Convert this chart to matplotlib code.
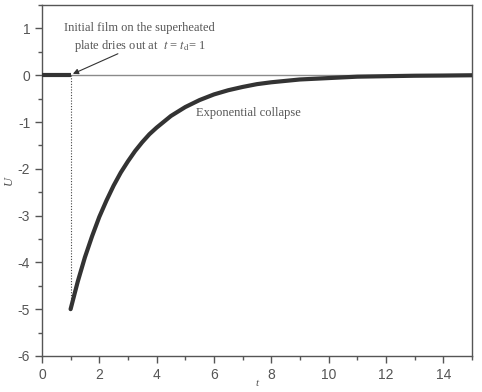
import matplotlib
matplotlib.use("Agg")
import matplotlib.pyplot as plt
from matplotlib.ticker import MultipleLocator

plt.rcParams["axes.unicode_minus"] = False
plt.rcParams["mathtext.fontset"] = "stix"

t_flat = [0.0, 1.0]
u_flat = [0.0, 0.0]

t_curve = [1.0, 1.25, 1.5, 1.75, 2.0, 2.25, 2.5, 2.75, 3.0, 3.25, 3.5, 3.75, 4.0,
           4.5, 5.0, 5.5, 6.0, 6.5, 7.0, 7.5, 8.0, 9.0, 10.0, 11.0, 12.0, 13.0, 14.0, 15.0]
u_curve = [-5.00, -4.41, -3.89, -3.44, -3.03, -2.68, -2.36, -2.08, -1.84, -1.62, -1.43, -1.26, -1.12,
           -0.87, -0.68, -0.53, -0.41, -0.32, -0.25, -0.19, -0.15, -0.09, -0.06, -0.03, -0.02, -0.01, -0.006, 0.0]

t_dry = 1.0
u_dry_bottom = -5.0

xticks = [0, 2, 4, 6, 8, 10, 12, 14]
yticks = [-6, -5, -4, -3, -2, -1, 0, 1]

fig = plt.figure(figsize=(4.82, 3.92), dpi=100)
ax = fig.add_axes([0.087, 0.092, 0.892, 0.895])

spine_c = "#555555"
text_c = "#555555"

ax.axhline(0, color="#8a8a8a", lw=1.0, zorder=1)
ax.plot([t_dry, t_dry], [0, u_dry_bottom], color="#444444", lw=0.8, ls=(0, (1, 1.5)), zorder=2)
ax.plot(t_flat, u_flat, color="#333333", lw=3.0, solid_capstyle="butt", zorder=3)
ax.plot(t_curve, u_curve, color="#333333", lw=3.0, solid_capstyle="round", zorder=3)

ax.set_xlim(0, 15)
ax.set_ylim(-6, 1.5)
ax.set_xticks(xticks)
ax.set_yticks(yticks)
ax.xaxis.set_minor_locator(MultipleLocator(1))
ax.yaxis.set_minor_locator(MultipleLocator(0.5))

for s in ax.spines.values():
    s.set_color(spine_c)
    s.set_linewidth(1.0)

ax.tick_params(which="both", direction="out", colors=spine_c, labelcolor=text_c,
               top=False, right=False)
ax.tick_params(which="major", length=5, width=1.0, labelsize=10)
ax.tick_params(which="minor", length=3, width=1.0)
for lab in ax.get_xticklabels() + ax.get_yticklabels():
    lab.set_family(["Liberation Sans", "DejaVu Sans"])

ax.set_xlabel("t", fontstyle="italic", family="Liberation Serif", color=text_c, fontsize=8, labelpad=-2)
ax.set_ylabel("U", fontstyle="italic", family="Liberation Serif", color=text_c, fontsize=9, labelpad=2)

ax.text(3.41, 0.80, "Initial film on the superheated\nplate dries out at  $t$ = $t_{\\rm d}$= 1",
        ha="center", va="center", fontsize=9, family="Liberation Serif",
        color=text_c, linespacing=1.35)
ax.annotate("", xy=(1.08, 0.03), xytext=(2.65, 0.46),
            arrowprops=dict(arrowstyle="-|>", color="#333333", lw=0.8,
                            mutation_scale=8, shrinkA=0, shrinkB=0))

ax.text(7.2, -0.81, "Exponential collapse", ha="center", va="center",
        fontsize=9, family="Liberation Serif", color=text_c)

fig.savefig("out.png", dpi=100)
